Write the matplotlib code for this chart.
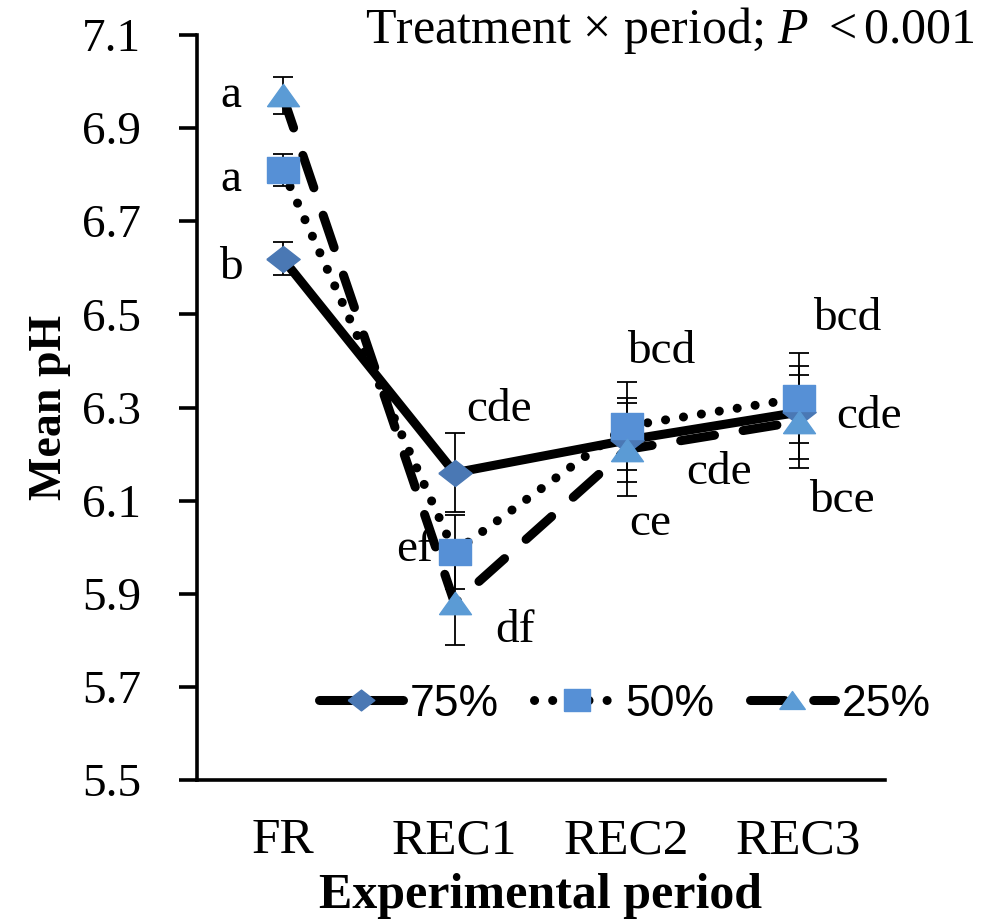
import matplotlib
matplotlib.use("Agg")
import matplotlib.pyplot as plt
import numpy as np
from matplotlib.lines import Line2D

plt.rcParams['font.family'] = ['Liberation Serif', 'DejaVu Serif']
plt.rcParams['mathtext.fontset'] = 'custom'
plt.rcParams['mathtext.rm'] = 'Liberation Serif'
plt.rcParams['mathtext.it'] = 'Liberation Serif:italic'

periods = ["FR", "REC1", "REC2", "REC3"]
series_names = ["75%", "50%", "25%"]
ph_75 = [6.62, 6.16, 6.23, 6.29]
ph_50 = [6.81, 5.99, 6.26, 6.32]
ph_25 = [6.97, 5.88, 6.21, 6.27]
err_75 = [0.035, 0.085, 0.09, 0.10]
err_50 = [0.035, 0.08, 0.095, 0.097]
err_25 = [0.04, 0.09, 0.10, 0.10]

letters = ["a", "a", "b", "cde", "ef", "df", "bcd", "cde", "ce", "bcd", "cde", "bce"]
letter_x = [-0.30, -0.30, -0.30, 1.26, 0.77, 1.35, 2.20, 2.54, 2.14, 3.28, 3.41, 3.25]
letter_y = [6.97, 6.79, 6.60, 6.295, 5.994, 5.82, 6.42, 6.16, 6.05, 6.49, 6.28, 6.10]

fig = plt.figure(figsize=(10.03, 9.19), dpi=100)
ax = fig.add_axes([0.196, 0.151, 0.686, 0.811])

x = np.arange(len(periods))

diamond = [(-1, 0), (0, 0.78), (1, 0), (0, -0.78), (-1, 0)]
square = [(-1, -0.83), (1, -0.83), (1, 0.83), (-1, 0.83), (-1, -0.83)]
triangle = [(-1, -0.7), (1, -0.7), (0, 0.7), (-1, -0.7)]

styles = [
    dict(ls='-', marker=diamond, ms=24, mfc='#4a78b4'),
    dict(ls=(0, (0.01, 2.0)), marker=square, ms=23, mfc='#5690d6'),
    dict(ls=(0, (3.8, 3.2)), marker=triangle, ms=23, mfc='#5b9bd5'),
]
data = [ph_75, ph_50, ph_25]
errs = [err_75, err_50, err_25]

for vals, er, st in zip(data, errs, styles):
    ax.errorbar(x, vals, yerr=er, fmt='none', ecolor='black', elinewidth=1.3,
                capsize=7, capthick=1.3, zorder=2)
    ax.plot(x, vals, linestyle=st['ls'], color='black', lw=6.5,
            solid_capstyle='round', dash_capstyle='round', zorder=3)
for vals, st in zip(data, styles):
    ax.plot(x, vals, linestyle='none', marker=st['marker'], ms=st['ms'],
            mfc=st['mfc'], mec=st['mfc'], zorder=4)

handles = []
for st in styles:
    handles.append(Line2D([0], [0], linestyle=st['ls'], color='black', lw=6.5,
                          solid_capstyle='round', dash_capstyle='round',
                          marker=st['marker'], ms=st['ms'] * 0.8, mfc=st['mfc'], mec=st['mfc']))

for t, lx, ly in zip(letters, letter_x, letter_y):
    ax.text(lx, ly, t, fontsize=34, ha='center', va='center', zorder=5)

ax.set_xlim(-0.5, 3.5)
ax.set_ylim(5.5, 7.1)
yt = np.arange(5.5, 7.11, 0.2)
ax.set_yticks(yt)
ax.set_yticklabels([f"{v:.1f}" for v in yt])
ax.set_xticks(x)
ax.set_xticklabels(periods)
for s in ['top', 'right']:
    ax.spines[s].set_visible(False)
for s in ['left', 'bottom']:
    ax.spines[s].set_linewidth(2.6)
ax.tick_params(axis='y', direction='out', length=13, width=2.6, labelsize=34, pad=27)
ax.tick_params(axis='x', length=0, labelsize=37, pad=27)

ax.set_ylabel("Mean pH", fontsize=33, fontweight='bold', labelpad=8)
fig.text(0.539, 1 - 908 / 919, "Experimental period", fontsize=36, fontweight='bold',
         ha='center', va='baseline')

ax.legend(handles, series_names, loc='center', bbox_to_anchor=(0.622, 0.102),
          ncol=3, frameon=False, handlelength=1.9, handletextpad=0.15,
          columnspacing=0.8, prop={'family': 'Liberation Sans', 'size': 32})

fig.text(0.972, 0.967, r"Treatment $\times$ period; $\mathit{P}$ $<$0.001", fontsize=36,
         ha='right', va='center')

fig.savefig("out.png", dpi=100)
